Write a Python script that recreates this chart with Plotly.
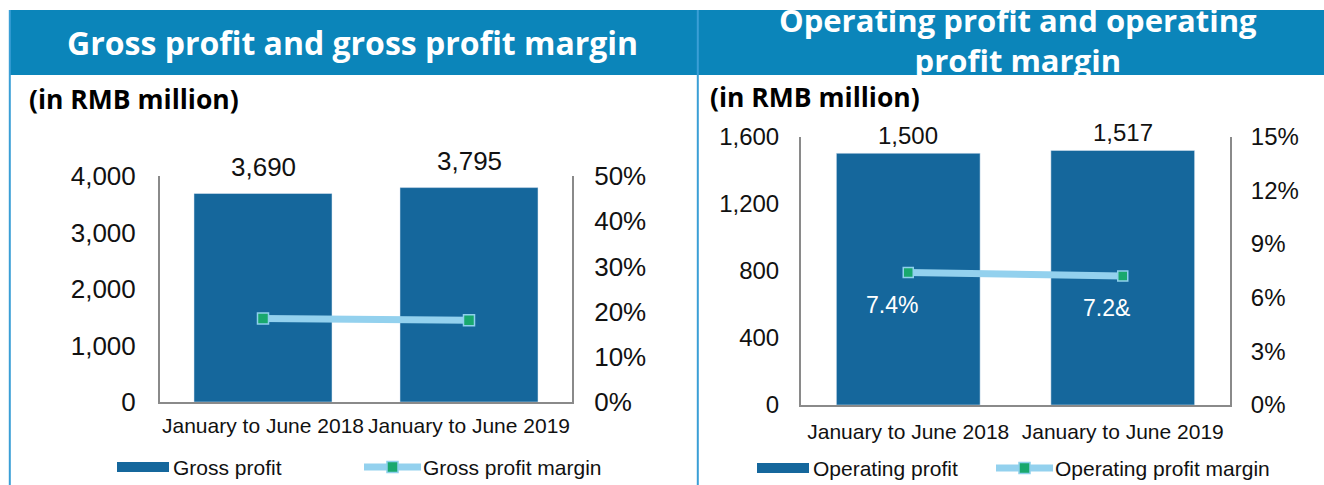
import plotly.graph_objects as go

# ---------------- data ----------------
periods = ["January to June 2018", "January to June 2019"]

gross_profit = [3690, 3795]
gross_profit_labels = ["3,690", "3,795"]
gross_margin = [18.5, 18.1]          # %
gp_ticks = [0, 1000, 2000, 3000, 4000]
gm_ticks = [0, 10, 20, 30, 40, 50]

op_profit = [1500, 1517]
op_profit_labels = ["1,500", "1,517"]
op_margin = [7.4, 7.2]               # %
op_margin_labels = ["7.4%", "7.2&"]
op_ticks = [0, 400, 800, 1200, 1600]
om_ticks = [0, 3, 6, 9, 12, 15]

titles = ["Gross profit and gross profit margin",
          "Operating profit and operating<br>profit margin"]
unit_label = "(in RMB million)"
legend_left = ["Gross profit", "Gross profit margin"]
legend_right = ["Operating profit", "Operating profit margin"]

# ---------------- styles ----------------
W, H = 1324, 485
BAR = "#15679C"
LINE = "#93D1EE"
MARK = "#19A86E"
MARK_EDGE = "#8ED0EC"
HEAD = "#0B85BA"
BORDER = "#3A9FD6"
AXIS = "#8A8A8A"
TXT = "#111111"
FONT = "Liberation Sans, Arial, sans-serif"
TFONT = "Open Sans, Segoe UI, sans-serif"


def px(x):
    return x / W


def py(y):
    return 1 - y / H


fig = go.Figure()

fig.add_trace(go.Bar(x=periods, y=gross_profit, marker_color=BAR,
                     xaxis="x", yaxis="y", showlegend=False, hoverinfo="skip"))
fig.add_trace(go.Scatter(x=periods, y=gross_margin, mode="lines+markers",
                         line=dict(color=LINE, width=7),
                         marker=dict(symbol="square", size=11, color=MARK,
                                     line=dict(color=MARK_EDGE, width=1.5)),
                         xaxis="x", yaxis="y2", showlegend=False, hoverinfo="skip"))
fig.add_trace(go.Bar(x=periods, y=op_profit, marker_color=BAR,
                     xaxis="x2", yaxis="y3", showlegend=False, hoverinfo="skip"))
fig.add_trace(go.Scatter(x=periods, y=op_margin, mode="lines+markers",
                         line=dict(color=LINE, width=7),
                         marker=dict(symbol="square", size=10, color=MARK,
                                     line=dict(color=MARK_EDGE, width=1.5)),
                         xaxis="x2", yaxis="y4", showlegend=False, hoverinfo="skip"))

axis_common = dict(showgrid=False, zeroline=False, showline=True,
                   linecolor=AXIS, linewidth=2, ticks="outside",
                   tickcolor="rgba(0,0,0,0)", fixedrange=True, automargin=False)

left_xdom = [px(160), px(572)]
left_ydom = [py(402), py(176)]
right_xdom = [px(801), px(1230)]
right_ydom = [py(405), py(136.5)]

fig.update_layout(
    width=W, height=H, margin=dict(l=0, r=0, t=0, b=0, autoexpand=False),
    paper_bgcolor="white", plot_bgcolor="rgba(0,0,0,0)",
    bargap=0.33, showlegend=False,
    font=dict(family=FONT, color=TXT),
    xaxis=dict(axis_common, domain=left_xdom, anchor="y", type="category",
               ticklen=4, tickfont=dict(size=21)),
    yaxis=dict(axis_common, domain=left_ydom, anchor="x", range=[0, 4000],
               tickmode="array", tickvals=gp_ticks,
               ticktext=[f"{v:,}" for v in gp_ticks], ticklen=17,
               tickfont=dict(size=26)),
    yaxis2=dict(axis_common, domain=left_ydom, anchor="x", overlaying="y",
                side="right", range=[0, 50], tickmode="array", tickvals=gm_ticks,
                ticktext=[f"{v}%" for v in gm_ticks], ticklen=15,
                tickfont=dict(size=26)),
    xaxis2=dict(axis_common, domain=right_xdom, anchor="y3", type="category",
                ticklen=7, tickfont=dict(size=21)),
    yaxis3=dict(axis_common, domain=right_ydom, anchor="x2", range=[0, 1600],
                tickmode="array", tickvals=op_ticks,
                ticktext=[f"{v:,}" for v in op_ticks], ticklen=15,
                tickfont=dict(size=24)),
    yaxis4=dict(axis_common, domain=right_ydom, anchor="x2", overlaying="y3",
                side="right", range=[0, 15], tickmode="array", tickvals=om_ticks,
                ticktext=[f"{v}%" for v in om_ticks], ticklen=14,
                tickfont=dict(size=24)),
)

shapes = []
shapes.append(dict(type="rect", xref="paper", yref="paper", x0=px(9), x1=1,
                   y0=py(75), y1=py(10), fillcolor=HEAD, line_width=0, layer="below"))
for xl in (9.8, 697.8):
    shapes.append(dict(type="line", xref="paper", yref="paper", x0=px(xl), x1=px(xl),
                       y0=0, y1=py(10), line=dict(color=BORDER, width=2)))

annotations = []
annotations.append(dict(text=f"<b>{titles[0]}</b>", xref="paper", yref="paper",
                        x=px(353), y=py(42), showarrow=False, xanchor="center",
                        yanchor="middle", font=dict(family=TFONT, size=32, color="white")))
annotations.append(dict(text=f"<b>{titles[1]}</b>", xref="paper", yref="paper",
                        x=px(1018), y=py(40), showarrow=False, xanchor="center",
                        yanchor="middle", align="center",
                        font=dict(family=TFONT, size=31, color="white")))
for xu, yu in ((27, 99), (708, 97)):
    annotations.append(dict(text=f"<b>{unit_label}</b>", xref="paper", yref="paper",
                            x=px(xu), y=py(yu), showarrow=False, xanchor="left",
                            yanchor="middle", font=dict(family=TFONT, size=26.5, color="black")))

for p, v, lab in zip(periods, gross_profit, gross_profit_labels):
    annotations.append(dict(text=lab, x=p, y=v, xref="x", yref="y", showarrow=False,
                            yanchor="middle", yshift=27, font=dict(size=26, color=TXT)))
for p, v, lab in zip(periods, op_profit, op_profit_labels):
    annotations.append(dict(text=lab, x=p, y=v, xref="x2", yref="y3", showarrow=False,
                            yanchor="middle", yshift=17.5, font=dict(size=24, color=TXT)))
for p, v, lab in zip(periods, op_margin, op_margin_labels):
    annotations.append(dict(text=lab, x=p, y=v, xref="x2", yref="y4", showarrow=False,
                            yanchor="middle", xshift=-16, yshift=-32,
                            font=dict(size=23, color="white")))


def legend(bar_x0, bar_x1, bar_text_x, line_x0, line_x1, line_text_x, yc, names):
    shapes.append(dict(type="rect", xref="paper", yref="paper", x0=px(bar_x0), x1=px(bar_x1),
                       y0=py(yc + 5), y1=py(yc - 5), fillcolor=BAR, line_width=0))
    shapes.append(dict(type="line", xref="paper", yref="paper", x0=px(line_x0), x1=px(line_x1),
                       y0=py(yc), y1=py(yc), line=dict(color=LINE, width=7)))
    mc = (line_x0 + line_x1) / 2
    shapes.append(dict(type="rect", xref="paper", yref="paper", x0=px(mc - 5.5), x1=px(mc + 5.5),
                       y0=py(yc + 5.5), y1=py(yc - 5.5), fillcolor=MARK,
                       line=dict(color=MARK_EDGE, width=1.5)))
    annotations.append(dict(text=names[0], xref="paper", yref="paper", x=px(bar_text_x),
                            y=py(yc), xanchor="left", yanchor="middle", showarrow=False,
                            font=dict(size=21, color=TXT)))
    annotations.append(dict(text=names[1], xref="paper", yref="paper", x=px(line_text_x),
                            y=py(yc), xanchor="left", yanchor="middle", showarrow=False,
                            font=dict(size=21, color=TXT)))


legend(117, 169, 171, 364, 421, 421, 467, legend_left)
legend(757, 809, 811, 996, 1053, 1053, 468, legend_right)

fig.update_layout(shapes=shapes, annotations=annotations)
fig.write_html("out.html", config={"displayModeBar": False, "staticPlot": True},
               post_script="document.body.style.margin='0';document.body.style.overflow='hidden';")
